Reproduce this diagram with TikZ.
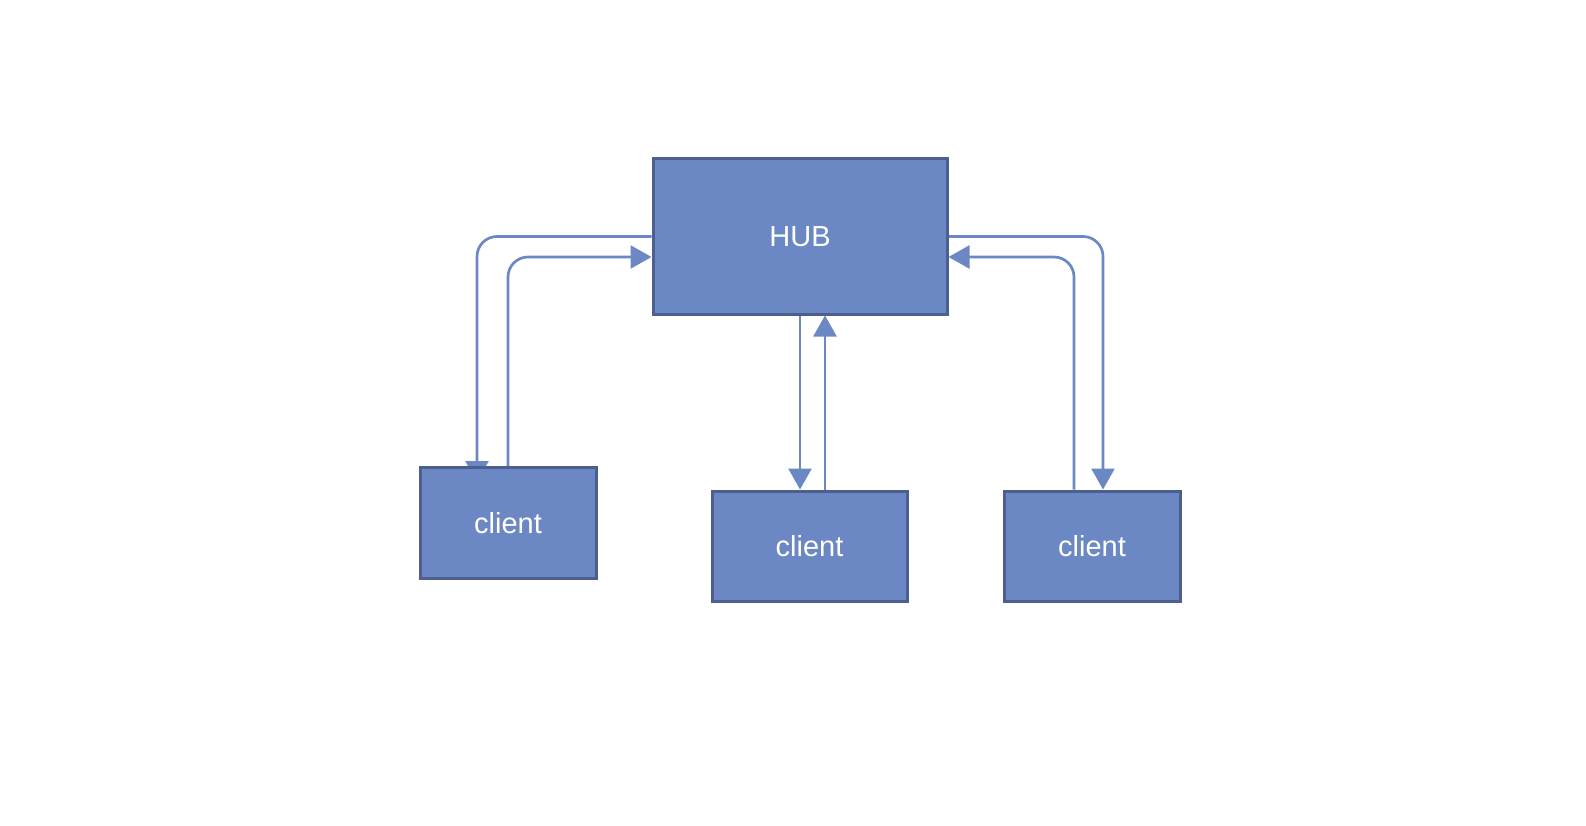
\documentclass[tikz,border=0pt]{standalone}
\usepackage{fontspec}
\setmainfont{Liberation Sans}
\usetikzlibrary{arrows.meta,calc,backgrounds}
\definecolor{boxfill}{HTML}{6C88C4}
\definecolor{boxline}{HTML}{4D5F8E}
\definecolor{arrcol}{HTML}{6C88C4}
\tikzset{
  box/.style={draw=boxline, fill=boxfill, line width=3pt, inner sep=0pt,
    text=white, font=\fontsize{29}{33}\selectfont},
  conn/.style={draw=arrcol, line width=2.7pt, rounded corners=20pt,
    -{Triangle[length=21pt,width=23pt]}},
}
\begin{document}
\begin{tikzpicture}[x=1pt,y=-1pt]
\useasboundingbox (0,0) rectangle (1586,826);
\node[box, minimum width=294pt, minimum height=155pt] (hub) at (800,236.5) {HUB};
\node[box, minimum width=176pt, minimum height=111pt] (cl) at (508,523) {client};
\node[box, minimum width=195pt, minimum height=110pt] (cm) at (809.5,546) {client};
\node[box, minimum width=176pt, minimum height=110pt] (cr) at (1092,546) {client};
\begin{scope}[on background layer]
\draw[conn] (hub.west) -| ($(cl.north)+(-31,16)$);
\draw[conn] (cl.north) |- ($(hub.west)+(0,20.5)$);
\draw[conn] ($(hub.south)+(0,0)$) -- ($(cm.north)+(-9.5,0)$);
\draw[conn] ($(cm.north)+(15.5,0)$) -- ($(hub.south)+(25,0)$);
\draw[conn] (hub.east) -| ($(cr.north)+(11,0)$);
\draw[conn] ($(cr.north)+(-18,0)$) |- ($(hub.east)+(0,20.5)$);
\end{scope}
\end{tikzpicture}
\end{document}
